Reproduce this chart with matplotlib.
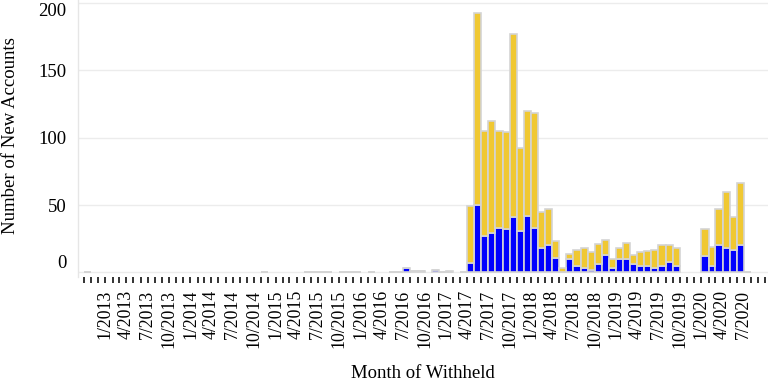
import matplotlib

matplotlib.use("Agg")
import matplotlib.dates as mdates
import matplotlib.pyplot as plt
import matplotlib.ticker as mticker
import pandas as pd

# months that have a record (zero rows still draw a flat grey bar)
months = [
    "2012-10", "2014-11", "2015-05", "2015-06", "2015-07", "2015-08",
    "2015-10", "2015-11", "2015-12", "2016-02", "2016-05", "2016-06",
    "2016-07", "2016-08", "2016-09", "2016-11", "2016-12", "2017-01",
    "2017-03", "2017-04", "2017-05", "2017-06", "2017-07", "2017-08",
    "2017-09", "2017-10", "2017-11", "2017-12", "2018-01", "2018-02",
    "2018-03", "2018-04", "2018-05", "2018-06", "2018-07", "2018-08",
    "2018-09", "2018-10", "2018-11", "2018-12", "2019-01", "2019-02",
    "2019-03", "2019-04", "2019-05", "2019-06", "2019-07", "2019-08",
    "2019-09", "2020-01", "2020-02", "2020-03", "2020-04", "2020-05",
    "2020-06", "2020-07",
]
# blue part of each bar
blue_vals = [
    0, 0, 0, 0, 0, 0,
    0, 0, 0, 0, 0, 0,
    3, 1, 1, 2, 0, 0,
    0, 7, 50, 27, 29, 33,
    32, 41, 31, 42, 33, 18,
    20, 11, 0, 10, 5, 3,
    2, 6, 13, 3, 10, 10,
    6, 5, 5, 3, 5, 8,
    5, 12, 5, 20, 18, 17,
    20, 0,
]
# whole bar height (blue + gold)
total_vals = [
    0, 0, 0, 0, 0, 0,
    0, 0, 0, 0, 0, 0,
    3, 1, 1, 2, 0, 1,
    0, 49, 192, 105, 112, 105,
    104, 177, 92, 120, 118, 45,
    47, 23, 3, 14, 17, 18,
    15, 21, 24, 10, 18, 22,
    13, 15, 16, 17, 20, 20,
    18, 32, 19, 47, 60, 41,
    66, 0,
]
label_start = "2013-01-01"
label_end = "2020-07-01"

BLUE = "#0000ff"
GOLD = "#f0c832"
EDGE = "#d4d4d4"

plt.rcParams["font.family"] = ["Liberation Serif", "DejaVu Serif"]

dates = pd.to_datetime(months, format="%Y-%m")
widths = [((d + pd.offsets.MonthBegin(1)) - d).days for d in dates]
gold_vals = [t - b for t, b in zip(total_vals, blue_vals)]

fig = plt.figure(figsize=(7.72, 3.89), dpi=100)
ax = fig.add_axes([0.1014, 0.2892, 0.8934, 0.7108])

ax.bar(dates, blue_vals, width=widths, align="edge", color=BLUE,
       edgecolor=EDGE, linewidth=1.2, zorder=2)
ax.bar(dates, gold_vals, width=widths, bottom=blue_vals, align="edge",
       color=GOLD, edgecolor=EDGE, linewidth=1.2, zorder=2)

ax.set_xlim(pd.Timestamp("2012-09-07"), pd.Timestamp("2020-10-13"))
ax.set_ylim(-3, 202)

# every month gets a tick, every third one a label
major = pd.date_range(label_start, label_end, freq="3MS")
ax.xaxis.set_major_locator(mticker.FixedLocator(mdates.date2num(major)))
ax.xaxis.set_major_formatter(
    mticker.FuncFormatter(lambda v, p: "%d/%d" % (mdates.num2date(v).month, mdates.num2date(v).year))
)
ax.xaxis.set_minor_locator(mdates.MonthLocator())
ax.tick_params(axis="x", which="both", length=4.5, width=1.2, color="#111111",
               direction="out", pad=5)
ax.tick_params(axis="x", which="major", labelsize=12.8, labelrotation=90)

ax.set_yticks([0, 50, 100, 150, 200])
ax.tick_params(axis="y", length=0, pad=8.5, labelsize=13.5)
ylabels = ax.get_yticklabels()
ylabels[0].set_va("bottom")
ylabels[-1].set_va("top")

ax.grid(axis="y", color="#ececec", linewidth=1)
ax.set_axisbelow(True)
for s in ["top", "right", "bottom"]:
    ax.spines[s].set_visible(False)
ax.spines["left"].set_color("#e6e6e6")
ax.spines["left"].set_linewidth(1)

ax.set_xlabel("Month of Withheld", fontsize=13.5)
ax.xaxis.set_label_coords(0.5, -0.32)
ax.set_ylabel("Number of New Accounts", fontsize=13.5)
ax.yaxis.set_label_coords(-0.086, 0.51)

fig.savefig("out.png", dpi=100)
